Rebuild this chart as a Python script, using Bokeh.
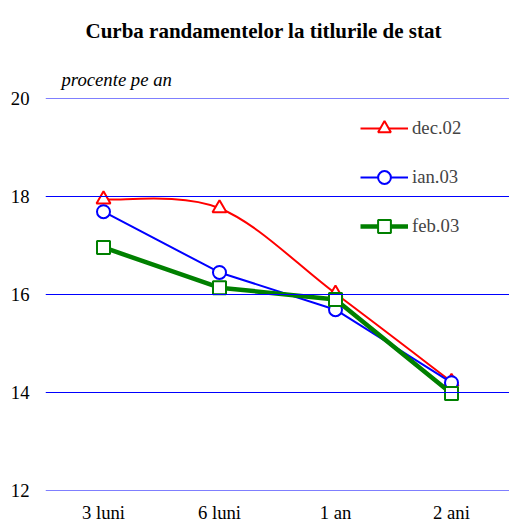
from bokeh.plotting import figure
from bokeh.models import (FixedTicker, Legend, LegendItem, Title, ColumnDataSource, Range1d, Span)
from bokeh.embed import file_html
from bokeh.resources import INLINE

categories = ["3 luni", "6 luni", "1 an", "2 ani"]
dec02 = [17.94, 17.76, 16.02, 14.22]
ian03 = [17.69, 16.45, 15.69, 14.2]
feb03 = [16.96, 16.14, 15.9, 13.98]
y_ticks = [12, 14, 16, 18, 20]

FONT = "Liberation Serif"
FS = "18.7px"

p = figure(frame_width=464, frame_height=392, output_backend="svg", toolbar_location=None,
           x_range=Range1d(0, 4), y_range=Range1d(12, 20), title=None,
           min_border_left=45, min_border_right=0, min_border_top=98, min_border_bottom=25)
p.outline_line_color = None
p.background_fill_color = "white"
p.border_fill_color = "white"

xs = [i + 0.5 for i in range(len(categories))]

p.xaxis.ticker = FixedTicker(ticks=xs)
p.xaxis.major_label_overrides = {x: c for x, c in zip(xs, categories)}
p.yaxis.ticker = FixedTicker(ticks=y_ticks)
for ax in (p.xaxis[0], p.yaxis[0]):
    ax.axis_line_color = None
    ax.major_tick_line_color = None
    ax.minor_tick_line_color = None
    ax.major_label_text_font = FONT
    ax.major_label_text_font_size = FS
    ax.major_label_text_color = "black"
p.yaxis.major_label_standoff = 10
p.xaxis.major_label_standoff = 5
p.xgrid.grid_line_color = None
p.ygrid.grid_line_color = None
for t in y_ticks:
    p.add_layout(Span(location=t, dimension="width", line_color="#0000ff", line_width=1))


def smooth(xv, yv):
    n = len(xv)
    P = list(zip(xv, yv))
    ext = [P[0]] + P + [P[-1]]
    d = dict(x0=[], y0=[], x1=[], y1=[], cx0=[], cy0=[], cx1=[], cy1=[])
    for i in range(n - 1):
        pm, p0, p1, p2 = ext[i], ext[i + 1], ext[i + 2], ext[i + 3]
        d["x0"].append(p0[0]); d["y0"].append(p0[1])
        d["x1"].append(p1[0]); d["y1"].append(p1[1])
        d["cx0"].append(p0[0] + (p1[0] - pm[0]) / 6); d["cy0"].append(p0[1] + (p1[1] - pm[1]) / 6)
        d["cx1"].append(p1[0] - (p2[0] - p0[0]) / 6); d["cy1"].append(p1[1] - (p2[1] - p0[1]) / 6)
    return ColumnDataSource(d)


series = [
    ("dec.02", dec02, "#ff0000", 2, "triangle", 14, True),
    ("ian.03", ian03, "#0000ff", 2, "circle", 13, False),
    ("feb.03", feb03, "#008000", 4.5, "square", 13, False),
]

items = []
for name, vals, color, lw, marker, size, smoothed in series:
    if smoothed:
        p.bezier(x0="x0", y0="y0", x1="x1", y1="y1", cx0="cx0", cy0="cy0", cx1="cx1", cy1="cy1",
                 source=smooth(xs, vals), line_color=color, line_width=lw)
        lr = p.line(x=[xs[0]], y=[vals[0]], line_color=color, line_width=lw)
    else:
        lr = p.line(x=xs, y=vals, line_color=color, line_width=lw)
    sr = p.scatter(x=xs, y=vals, marker=marker, size=size, fill_color="white",
                   line_color=color, line_width=2)
    items.append(LegendItem(label=name, renderers=[lr, sr]))

legend = Legend(items=items, location=(315, 248), orientation="vertical",
                glyph_width=48, glyph_height=32, label_height=20, spacing=17,
                padding=0, margin=0, label_standoff=4,
                label_text_font=FONT, label_text_font_size=FS,
                border_line_color=None, background_fill_alpha=0)
p.add_layout(legend)

p.add_layout(Title(text="procente pe an", text_font=FONT, text_font_style="italic",
                   text_font_size=FS, text_color="black", align="left", offset=16,
                   standoff=18), "above")
p.add_layout(Title(text="Curba randamentelor la titlurile de stat", text_font=FONT,
                   text_font_size="21px", text_font_style="bold", align="left",
                   text_color="black", offset=40, standoff=30), "above")

open("out.html", "w").write(file_html(p, INLINE))
